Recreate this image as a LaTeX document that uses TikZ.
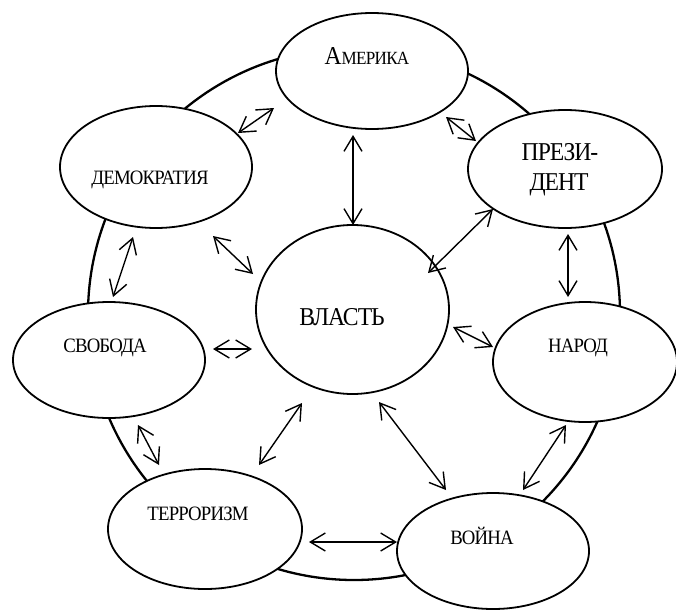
\documentclass[tikz,border=0pt]{standalone}
\usepackage{fontspec}
\setmainfont{Liberation Serif}
% condensed, tightly set serif lettering used for all concept names
\newfontfamily\lbl[FakeStretch=0.92,LetterSpace=-4]{Liberation Serif}
\usetikzlibrary{arrows.meta,shapes.geometric}

\begin{document}
\begin{tikzpicture}[x=1pt,y=-1pt,
  ring/.style={draw, line width=2.3pt, circle, minimum size=532pt, inner sep=0pt},
  bubble/.style={draw, line width=1.8pt, ellipse, fill=white, inner sep=0pt},
  word/.style={anchor=base, inner sep=0pt, font={\lbl\fontsize{20.4}{24}\selectfont}},
  bigword/.style={anchor=base, inner sep=0pt, font={\lbl\fontsize{25.7}{30}\selectfont}},
  link/.style={line width=1.4pt, >={Straight Barb[length=15pt,width=18pt]}, <->},
]
\useasboundingbox[fill=white] (0,0) rectangle (676,610);

% outer ring behind the concepts
\node[ring] (ring) at (354,314) {};

% concept ellipses
\node[bubble, minimum width=192pt, minimum height=116pt] (am)   at (372,71)  {};
\node[bubble, minimum width=194pt, minimum height=118pt] (pres) at (565,169) {};
\node[bubble, minimum width=192pt, minimum height=122pt] (dem)  at (156,167) {};
\node[bubble, minimum width=193pt, minimum height=169pt] (vl)   at (352.5,309.5) {};
\node[bubble, minimum width=192pt, minimum height=116pt] (svo)  at (109,360) {};
\node[bubble, minimum width=184pt, minimum height=120pt] (nar)  at (585,362) {};
\node[bubble, minimum width=194pt, minimum height=120pt] (ter)  at (205,529) {};
\node[bubble, minimum width=192pt, minimum height=116pt] (voy)  at (493,551) {};

% labels
\node[word] (amT) at (367,64) {{\fontsize{25.7}{30}\selectfont А}{\fontsize{18.6}{22}\selectfont МЕРИКА}};
\node[bigword] (presT1) at (560,160) {ПРЕЗИ-};
\node[bigword] (presT2) at (559,190) {ДЕНТ};
\node[word] (demT) at (150,184) {ДЕМОКРАТИЯ};
\node[bigword] (vlT) at (342,325) {ВЛАСТЬ};
\node[word] (svoT) at (105,352) {СВОБОДА};
\node[word] (narT) at (578,352) {НАРОД};
\node[word] (terT) at (198,520) {ТЕРРОРИЗМ};
\node[word] (voyT) at (482,544) {ВОЙНА};

% arrow ends
\coordinate (d1) at (238,133); \coordinate (a1) at (274,108);
\coordinate (a2) at (446,117); \coordinate (p2) at (476,141);
\coordinate (a3) at (353,135); \coordinate (v3) at (353,225);
\coordinate (p4) at (493,209); \coordinate (v4) at (428,273);
\coordinate (d5) at (213,236); \coordinate (v5) at (253,274);
\coordinate (d6) at (133,237); \coordinate (s6) at (113,297);
\coordinate (p7) at (568,234); \coordinate (n7) at (568,297);
\coordinate (s8) at (213,349); \coordinate (v8) at (252,349);
\coordinate (v9) at (453,327); \coordinate (n9) at (493,347);
\coordinate (s10) at (138,425); \coordinate (t10) at (159,465);
\coordinate (t11) at (259,465); \coordinate (v11) at (302,403);
\coordinate (v12) at (379,402); \coordinate (w12) at (446,490);
\coordinate (n13) at (566,425); \coordinate (w13) at (523,490);
\coordinate (t14) at (309,542); \coordinate (w14) at (397,542);

% two-way links
\draw[link] (d1) -- (a1);
\draw[link] (a2) -- (p2);
\draw[link] (a3) -- (v3);
\draw[link] (p4) -- (v4);
\draw[link] (d5) -- (v5);
\draw[link] (d6) -- (s6);
\draw[link] (p7) -- (n7);
\draw[link] (s8) -- (v8);
\draw[link] (v9) -- (n9);
\draw[link] (s10) -- (t10);
\draw[link] (t11) -- (v11);
\draw[link] (v12) -- (w12);
\draw[link] (n13) -- (w13);
\draw[link] (t14) -- (w14);
\end{tikzpicture}
\end{document}
